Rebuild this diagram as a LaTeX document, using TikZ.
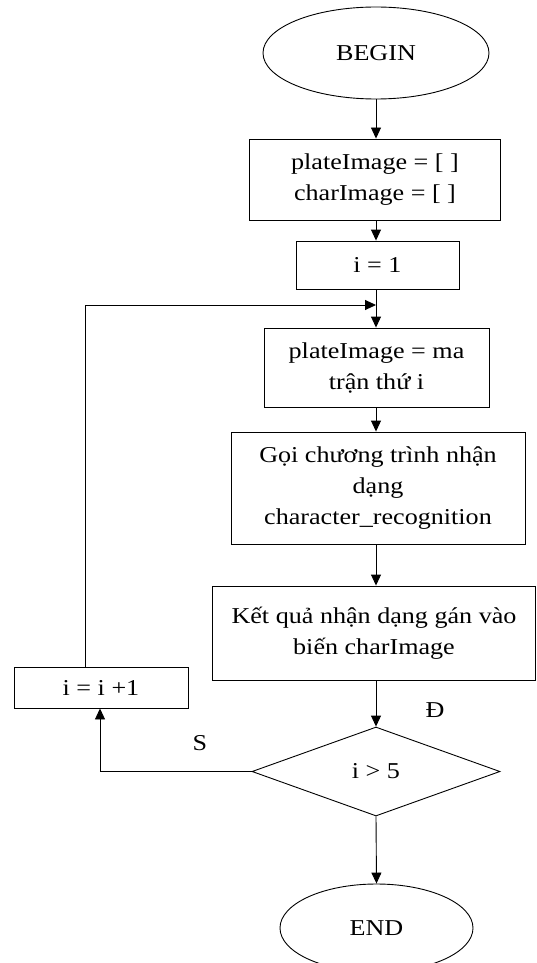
\documentclass[tikz,border=0pt]{standalone}
\usepackage{fontspec}
\setmainfont{Liberation Serif}[FakeStretch=1.15]
\usetikzlibrary{shapes.geometric,arrows.meta,calc}
\begin{document}
\begin{tikzpicture}[x=1pt,y=-1pt,
  font=\fontsize{22.7}{31}\selectfont,
  line width=0.9pt,
  every node/.style={inner sep=0pt, align=center},
  boxnode/.style={draw, rectangle},
  ovalnode/.style={draw, ellipse},
  arr/.style={-{Triangle[length=11pt,width=10pt]}}
]
\useasboundingbox (0,0) rectangle (537,963);
\node[ovalnode, minimum width=226pt, minimum height=92pt] (begin) at (376,53) {BEGIN};
\node[boxnode, minimum width=251pt, minimum height=81pt] (b1) at (375,179.5) {plateImage = [ ]\\charImage = [ ]};
\node[boxnode, minimum width=163pt, minimum height=48pt] (i1) at (377.5,265) {i = 1};
\node[boxnode, minimum width=225pt, minimum height=79pt] (b2) at (376.5,367.5) {plateImage = ma\\trận thứ i};
\node[boxnode, minimum width=294pt, minimum height=112pt] (b3) at (378,488) {Gọi chương trình nhận\\dạng\\character\_recognition};
\node[boxnode, minimum width=323pt, minimum height=94pt] (b4) at (374,633) {Kết quả nhận dạng gán vào\\biến charImage};
\node[boxnode, minimum width=174pt, minimum height=41pt] (inc) at (101,687.5) {i = i +1};
\node[draw, diamond, minimum width=248pt, minimum height=89pt, inner sep=0pt] (dec) at (376,771.5) {};
\node (dectext) at (dec.center) {i > 5};
\node[ovalnode, minimum width=193pt, minimum height=88pt] (end) at (376.5,928) {END};
\coordinate (loopin) at (376,305);
\coordinate (loopcorner) at (85,305);
\coordinate (scorner) at (100,771.5);
\node (lblD) at (435,710) {Đ};
\node (lblS) at (200,743) {S};
\draw[arr] (begin.south -| 376,0) -- (376,0 |- b1.north);
\draw[arr] (376,0 |- b1.south) -- (376,0 |- i1.north);
\draw[arr] (376,0 |- i1.south) -- (376,0 |- b2.north);
\draw[arr] (376,0 |- b2.south) -- (376,0 |- b3.north);
\draw[arr] (376,0 |- b3.south) -- (376,0 |- b4.north);
\draw[arr] (376,0 |- b4.south) -- (dec.north);
\draw[arr] (dec.south) -- (end.north);
\draw[arr] (loopcorner |- inc.north) -- (loopcorner) -- (loopin);
\draw[arr] (dec.west) -- (scorner) -- (scorner |- inc.south);
\end{tikzpicture}
\end{document}
